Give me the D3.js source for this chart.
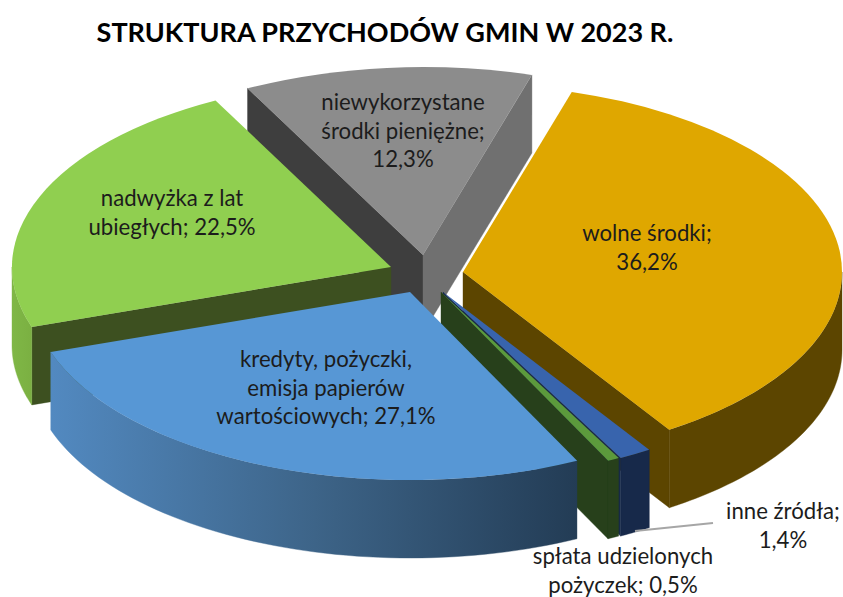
<!DOCTYPE html>
<html><head><meta charset="utf-8">
<script src="https://cdn.jsdelivr.net/npm/d3@7"></script>
<style>html,body{margin:0;padding:0;background:#fff}svg{display:block}
text{font-family:Lato,Carlito,sans-serif;fill:#1c1c1c}</style></head>
<body><svg id="c" width="843" height="597"></svg>
<script>
const titleText = "STRUKTURA PRZYCHODÓW GMIN W 2023 R.";
const categories = ["wolne środki","inne źródła","spłata udzielonych pożyczek","kredyty, pożyczki, emisja papierów wartościowych","nadwyżka z lat ubiegłych","niewykorzystane środki pieniężne"];
const values = [36.2,1.4,0.5,27.1,22.5,12.3];
const labelLines = [["wolne środki;","36,2%"],["inne źródła;","1,4%"],["spłata udzielonych","pożyczek; 0,5%"],["kredyty, pożyczki,","emisja papierów","wartościowych; 27,1%"],["nadwyżka z lat","ubiegłych; 22,5%"],["niewykorzystane","środki pieniężne;","12,3%"]];

// layout / styling, separate from the data
const apexX = [463,443,441,410,391,423];
const apexY = [272,292,292,292,267,255];
const labelX = [647,783,623,326,172,403];
const labelY = [241,519,564,367,206,110];
const topFill = ["#DFA700","#3864AD","#5C9A3C","#5797D5","#90CF50","#8C8C8C"];
const radialFill = ["#5C4500","#17294A","#27401B","#223C56","#3D5020","#3E3E3E"];
const arcFill = ["#5C4500","#17294A","#27401B","url(#blueWall)","url(#greenWall)","#707070"];
const paintOrder = [5,4,0,1,2,3];
const R = 379, RY = 188, DEPTH = 78, LINE = 28.6;
const startDeg = 16.7;

const svg = d3.select("#c");
const defs = svg.append("defs");
function grad(id,x1,x2,stops){
  const g = defs.append("linearGradient").attr("id",id).attr("gradientUnits","userSpaceOnUse")
    .attr("x1",x1).attr("x2",x2).attr("y1",0).attr("y2",0);
  stops.forEach(s=>g.append("stop").attr("offset",s[0]).attr("stop-color",s[1]));
}
grad("blueWall",52,578,[[0,"#5289C0"],[0.5,"#3D6488"],[1,"#233C55"]]);
grad("greenWall",12,32,[[0,"#7FB746"],[1,"#7BB042"]]);

const sx = d3.scaleLinear([-1,1],[-R,R]);
const sy = d3.scaleLinear([-1,1],[-RY,RY]);
const pie = d3.pie().sort(null).startAngle(startDeg*Math.PI/180).endAngle(startDeg*Math.PI/180+2*Math.PI);
const arcs = pie(values);
const line = d3.line();
const arcGen = d3.arc().innerRadius(0).outerRadius(1);

function pt(i,a,dz){ return [apexX[i]+sx(Math.sin(a)), apexY[i]+sy(-Math.cos(a))+(dz||0)]; }

const g = svg.append("g");
paintOrder.forEach(i=>{
  const a0 = arcs[i].startAngle, a1 = arcs[i].endAngle;
  const ax = apexX[i], ay = apexY[i];
  const radial = (a,fill)=>{
    g.append("path").attr("fill",fill).attr("stroke",fill).attr("stroke-width",0.4)
     .attr("d",line([[ax,ay],pt(i,a),pt(i,a,DEPTH),[ax,ay+DEPTH]])+"Z");
  };
  if(Math.sin(a0)<0) radial(a0,radialFill[i]);
  if(Math.sin(a1)>0) radial(a1,i===5?arcFill[i]:radialFill[i]);
  const lo = Math.max(a0,Math.PI/2), hi = Math.min(a1,3*Math.PI/2);
  if(hi>lo){
    const steps = d3.range(0,61).map(k=>lo+(hi-lo)*k/60);
    const up = steps.map(a=>pt(i,a));
    const dn = steps.slice().reverse().map(a=>pt(i,a,DEPTH));
    g.append("path").attr("fill",arcFill[i]).attr("stroke",arcFill[i]).attr("stroke-width",0.4)
     .attr("d",line(up.concat(dn))+"Z");
  }
  g.append("path").attr("fill",topFill[i])
   .attr("transform",`translate(${ax},${ay}) scale(${R},${RY})`)
   .attr("d",arcGen(arcs[i]));
});

svg.append("line").attr("stroke","#A6A6A6").attr("stroke-width",2)
  .attr("x1",635).attr("y1",531).attr("x2",713).attr("y2",523);

svg.append("text").attr("x",385).attr("y",42).attr("text-anchor","middle")
  .attr("font-size",27).attr("font-weight",700).style("fill","#000").text(titleText);

labelLines.forEach((ls,i)=>{
  const t = svg.append("text").attr("text-anchor","middle").attr("font-size",22.2);
  ls.forEach((s,j)=>t.append("tspan").attr("x",labelX[i]).attr("y",labelY[i]+j*LINE).text(s));
});
</script></body></html>
